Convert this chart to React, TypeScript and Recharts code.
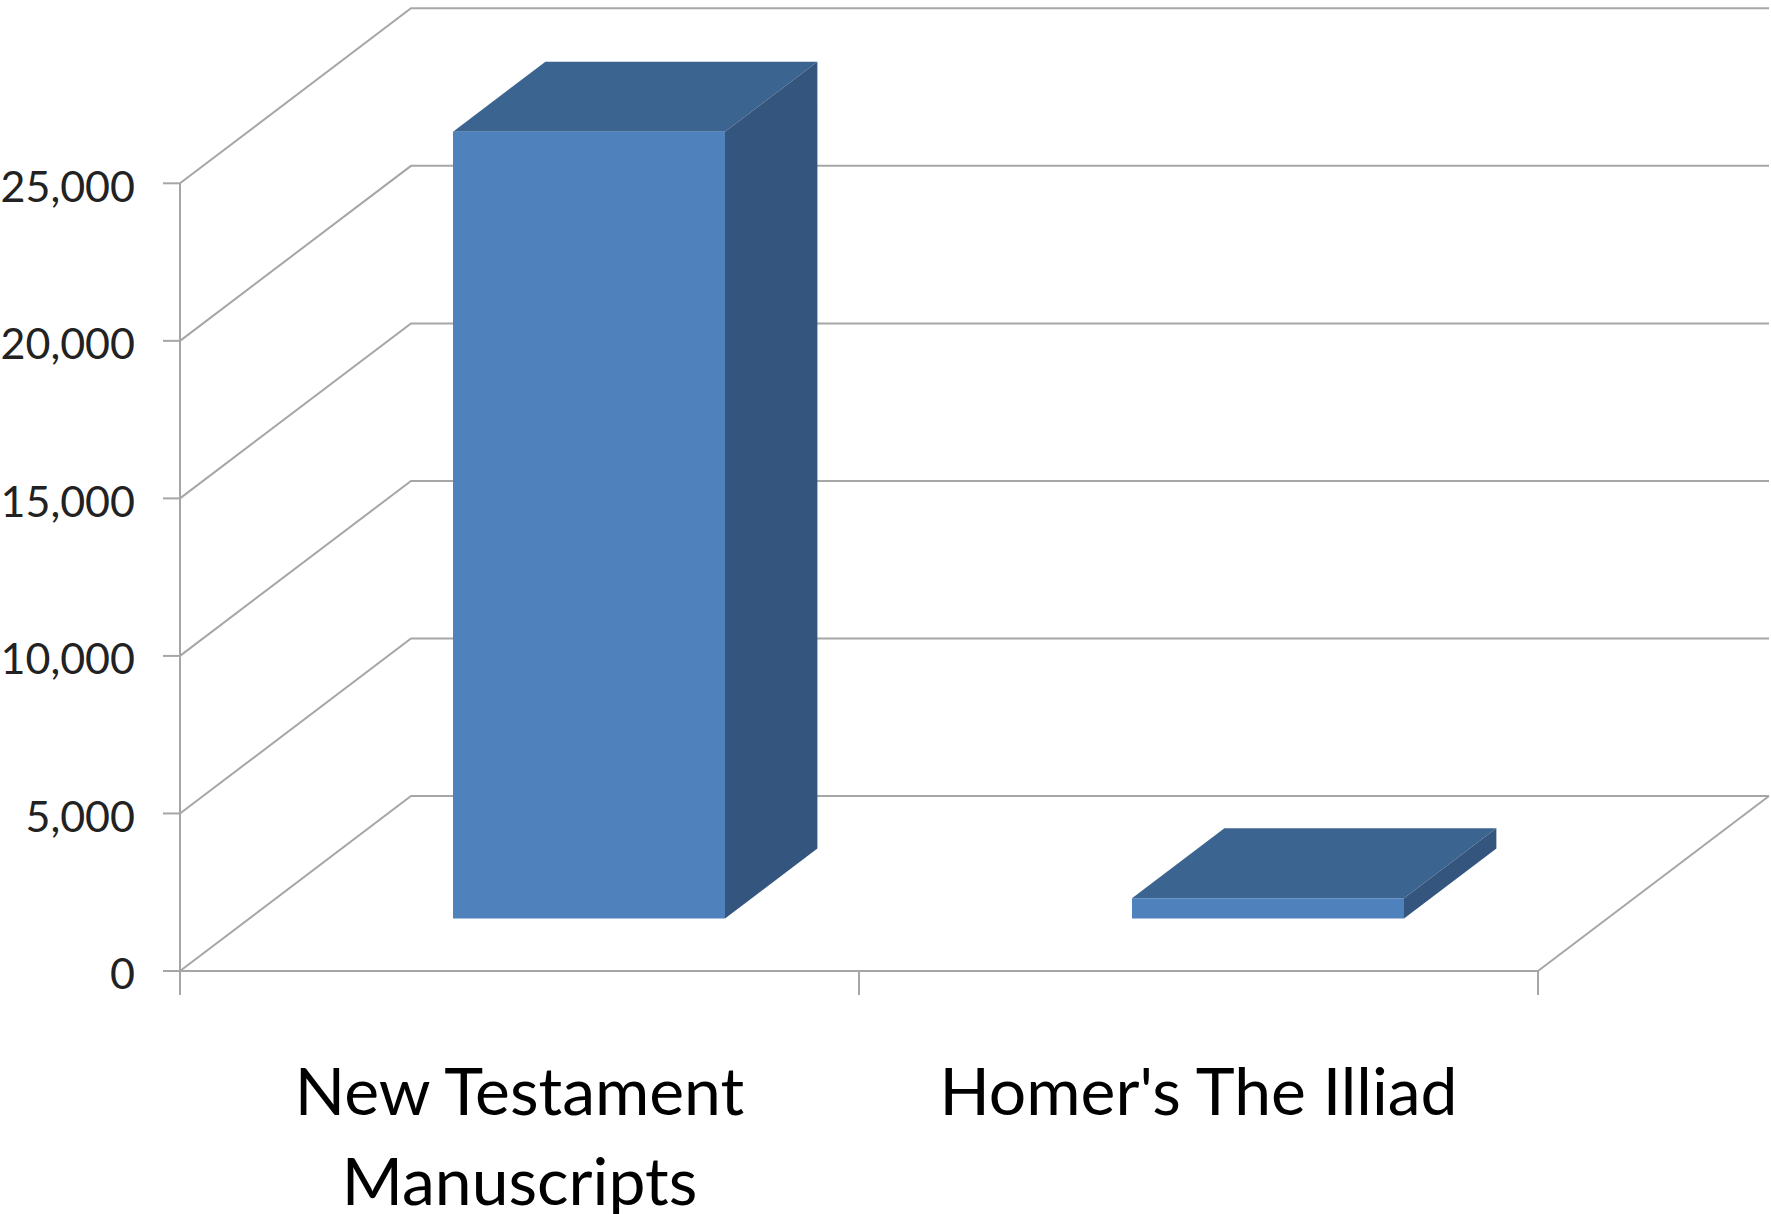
import React from 'react';
import { BarChart, Bar, XAxis, YAxis, CartesianGrid } from 'recharts';

const categories = ['New Testament Manuscripts', "Homer's The Illiad"];
const manuscriptCounts = [24970, 643];
const yTicks = [0, 5000, 10000, 15000, 20000, 25000];

const data = categories.map((name, i) => ({ name, count: manuscriptCounts[i] }));

const W = 1771;
const H = 1214;
const DX = 231;
const DY = 175;
const TICK = 24;
const GRID = '#a6a6a6';
const FONT = 'Lato, "Open Sans", sans-serif';
const FRONT = '#4F81BD';
const TOP = '#3C6491';
const SIDE = '#33557E';

function WallLine(props: any) {
  const { x1, y1, x2, y, height } = props;
  const floor = Math.abs(y1 - (y + height)) < 0.5;
  const bx1 = x1 + DX;
  const by = y1 - DY;
  const bx2 = x2 + DX;
  let d = `M${x1},${y1}L${bx1},${by}L${bx2},${by}`;
  if (floor) {
    d += `M${x2},${y1}L${bx2},${by}M${x1},${y1}L${x2},${y1}`;
    const n = categories.length;
    for (let k = 0; k <= n; k++) {
      const tx = x1 + ((x2 - x1) * k) / n;
      d += `M${tx},${y1}L${tx},${y1 + TICK}`;
    }
  }
  return <path key={`wall-${props.index}`} d={d} stroke={GRID} strokeWidth={2} fill="none" />;
}

function Bar3D(props: any) {
  const { x, y, width, height } = props;
  const fx = x + DX * 0.3;
  const fy = y - DY * 0.3;
  const bdx = DX * 0.4;
  const bdy = DY * 0.4;
  const right = fx + width;
  const bottom = fy + height;
  return (
    <g>
      <polygon
        points={`${fx},${fy} ${fx + bdx},${fy - bdy} ${right + bdx},${fy - bdy} ${right},${fy}`}
        fill={TOP}
      />
      <polygon
        points={`${right},${fy} ${right + bdx},${fy - bdy} ${right + bdx},${bottom - bdy} ${right},${bottom}`}
        fill={SIDE}
      />
      <rect x={fx} y={fy} width={width} height={height} fill={FRONT} />
    </g>
  );
}

function CategoryTick(props: any) {
  const { x, y, payload } = props;
  const words = String(payload.value).split(' ');
  const lines: string[] = [];
  let cur = '';
  for (const w of words) {
    const t = cur ? cur + ' ' + w : w;
    if (t.length > 20 && cur) {
      lines.push(cur);
      cur = w;
    } else {
      cur = t;
    }
  }
  lines.push(cur);
  return (
    <text x={x} y={y + 144} textAnchor="middle" fontSize={66} fontFamily={FONT} fill="#000">
      {lines.map((l, i) => (
        <tspan key={i} x={x} dy={i === 0 ? 0 : 90}>
          {l}
        </tspan>
      ))}
    </text>
  );
}

export default function App() {
  return (
    <div style={{ position: 'absolute', left: 0, top: 0, background: '#fff' }}>
      <BarChart
        width={W}
        height={H}
        data={data}
        margin={{ top: 183.3, right: 233, left: 0, bottom: 0 }}
        barCategoryGap="30%"
      >
        <CartesianGrid vertical={false} horizontal={WallLine as any} />
        <XAxis
          dataKey="name"
          height={243}
          axisLine={false}
          tickLine={false}
          tickSize={0}
          tickMargin={0}
          interval={0}
          tick={<CategoryTick />}
        />
        <YAxis
          type="number"
          domain={[0, 25000]}
          ticks={yTicks}
          width={180}
          tickSize={17}
          tickMargin={28}
          tickFormatter={(v: number) => v.toLocaleString('en-US')}
          axisLine={{ stroke: GRID, strokeWidth: 2 }}
          tickLine={{ stroke: GRID, strokeWidth: 2 }}
          tick={{ fontSize: 43, fontFamily: FONT, fill: '#222', dy: 3 }}
        />
        <Bar dataKey="count" shape={<Bar3D />} isAnimationActive={false} />
      </BarChart>
    </div>
  );
}
